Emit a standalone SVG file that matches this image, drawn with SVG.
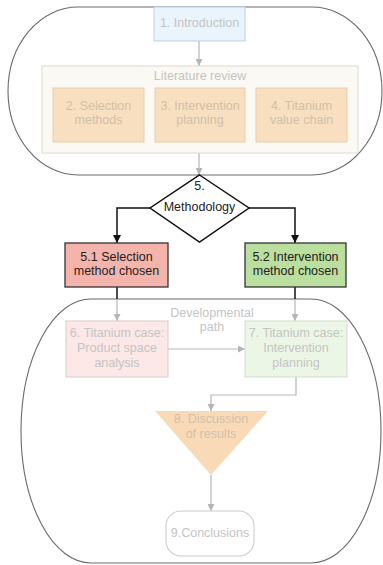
<svg xmlns="http://www.w3.org/2000/svg" width="383" height="565" viewBox="0 0 383 565">
  <defs>
    <marker id="arrGray" viewBox="0 0 10 10" refX="10" refY="5" markerWidth="7" markerHeight="7" markerUnits="userSpaceOnUse" orient="auto">
      <path d="M0,0 L10,5 L0,10 z" fill="#b5b5b5"/>
    </marker>
    <marker id="arrBlack" viewBox="0 0 10 10" refX="10" refY="5" markerWidth="8" markerHeight="8" markerUnits="userSpaceOnUse" orient="auto">
      <path d="M0,0 L10,5 L0,10 z" fill="#111"/>
    </marker>
  </defs>
  <style>
    text { font-family: "Liberation Sans", Arial, sans-serif; font-size: 12.5px; text-anchor: middle; }
    .faded { fill: #c4c4c4; }
    .peachTxt { fill: #d2c0a9; }
    .dark { fill: #222; }
    .group { fill: none; stroke: #6a6a6a; stroke-width: 1.1; }
    .gray { fill: none; stroke: #b5b5b5; stroke-width: 1.2; }
    .black { fill: none; stroke: #111; stroke-width: 1.5; }
  </style>

  <rect width="383" height="565" fill="#ffffff"/>

  <!-- enclosing outlines -->
  <g id="upper-frame">
    <rect x="8" y="7" width="374" height="168" rx="70" ry="84" class="group"/>
  </g>
  <g id="developmental-path">
    <rect x="21" y="299" width="360" height="264" rx="70" ry="132" class="group"/>
    <text x="212" y="317" class="faded">Developmental</text>
    <text x="212" y="331" class="faded">path</text>
  </g>

  <!-- connectors -->
  <g id="connectors">
    <line x1="199" y1="41" x2="199" y2="66" class="gray" marker-end="url(#arrGray)"/>
    <line x1="199" y1="153" x2="199" y2="175" class="gray" marker-end="url(#arrGray)"/>
    <polyline points="150,208 117,208 117,243" class="black" marker-end="url(#arrBlack)"/>
    <polyline points="249,208 295,208 295,243" class="black" marker-end="url(#arrBlack)"/>
    <line x1="117" y1="287" x2="117" y2="299" class="black"/>
    <line x1="295" y1="287" x2="295" y2="299" class="black"/>
    <line x1="117" y1="299" x2="117" y2="321" class="gray" marker-end="url(#arrGray)"/>
    <line x1="295" y1="299" x2="295" y2="321" class="gray" marker-end="url(#arrGray)"/>
    <line x1="168" y1="349" x2="245" y2="349" class="gray" marker-end="url(#arrGray)"/>
    <polyline points="296,377 296,395 211,395 211,411" class="gray" marker-end="url(#arrGray)"/>
    <line x1="211" y1="475" x2="211" y2="511" class="gray" marker-end="url(#arrGray)"/>
  </g>

  <g id="introduction">
    <rect x="154" y="7" width="91" height="34" fill="#eaf4fc" stroke="#b9d0e2" stroke-width="1"/>
    <text x="199.5" y="27" class="faded">1. Introduction</text>
  </g>

  <g id="literature-review">
    <rect x="42" y="66" width="316" height="87" fill="#fbf9f3" stroke="#dedad2" stroke-width="1"/>
    <text x="200" y="80" class="faded">Literature review</text>
  </g>
  <g id="selection-methods">
    <rect x="53" y="88" width="91" height="54" fill="#f8dfbf" stroke="#e6cdab" stroke-width="1"/>
    <text x="98.5" y="110" class="peachTxt">2. Selection</text>
    <text x="98.5" y="124" class="peachTxt">methods</text>
  </g>
  <g id="intervention-planning">
    <rect x="155" y="88" width="90" height="54" fill="#f8dfbf" stroke="#e6cdab" stroke-width="1"/>
    <text x="200" y="110" class="peachTxt">3. Intervention</text>
    <text x="200" y="124" class="peachTxt">planning</text>
  </g>
  <g id="titanium-value-chain">
    <rect x="256" y="88" width="91" height="54" fill="#f8dfbf" stroke="#e6cdab" stroke-width="1"/>
    <text x="301.5" y="110" class="peachTxt">4. Titanium</text>
    <text x="301.5" y="124" class="peachTxt">value chain</text>
  </g>

  <g id="methodology">
    <polygon points="199.5,175 249,208 199.5,242 150,208" fill="#ffffff" stroke="#111" stroke-width="1.5"/>
    <text x="199.5" y="190" class="dark">5.</text>
    <text x="199.5" y="211" class="dark">Methodology</text>
  </g>

  <g id="selection-chosen">
    <rect x="65" y="243" width="103" height="44" fill="#f5b4ab" stroke="#333" stroke-width="1.3"/>
    <text x="116.5" y="261" class="dark">5.1 Selection</text>
    <text x="116.5" y="275" class="dark">method chosen</text>
  </g>
  <g id="intervention-chosen">
    <rect x="245" y="243" width="101" height="44" fill="#badf9f" stroke="#333" stroke-width="1.3"/>
    <text x="295.5" y="261" class="dark">5.2 Intervention</text>
    <text x="295.5" y="275" class="dark">method chosen</text>
  </g>

  <g id="product-space">
    <rect x="66" y="321" width="102" height="56" fill="#fce8e6" stroke="#dccaca" stroke-width="1"/>
    <text x="117" y="337" class="faded">6. Titanium case:</text>
    <text x="117" y="352" class="faded">Product space</text>
    <text x="117" y="367" class="faded">analysis</text>
  </g>
  <g id="titanium-intervention">
    <rect x="245" y="321" width="102" height="56" fill="#ecf6e6" stroke="#d1dccd" stroke-width="1"/>
    <text x="296" y="337" class="faded">7. Titanium case:</text>
    <text x="296" y="352" class="faded">Intervention</text>
    <text x="296" y="367" class="faded">planning</text>
  </g>

  <g id="discussion">
    <polygon points="155,411 268,411 211,475" fill="#f8dab7"/>
    <text x="211" y="423" class="peachTxt">8. Discussion</text>
    <text x="211" y="438" class="peachTxt">of results</text>
  </g>

  <g id="conclusions">
    <rect x="166" y="511" width="88" height="45" rx="15" ry="15" fill="#ffffff" stroke="#cccccc" stroke-width="1.1"/>
    <text x="210" y="537" class="faded">9.Conclusions</text>
  </g>
</svg>
